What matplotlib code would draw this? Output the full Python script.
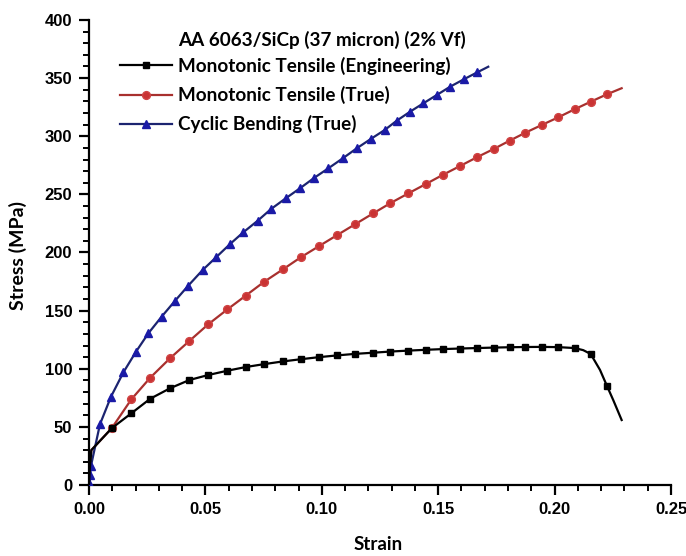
import matplotlib
matplotlib.use("Agg")
import matplotlib.pyplot as plt
from matplotlib.ticker import MultipleLocator, FormatStrFormatter
from matplotlib.lines import Line2D

# ---- data ----
tensile_strain = [0.0, 0.0004, 0.0010,
                  0.00975, 0.0182, 0.0263, 0.0348, 0.0431, 0.0512, 0.0594, 0.0674,
                  0.0753, 0.0833, 0.0910, 0.0989, 0.1067, 0.1143, 0.1221, 0.1295,
                  0.1372, 0.1447, 0.1519, 0.1594, 0.1666, 0.1738, 0.1807, 0.1874,
                  0.1945, 0.2016, 0.2086, 0.2123, 0.2155, 0.2195, 0.2225, 0.2252, 0.2288]
eng_stress = [0.0, 15.0, 30.0,
              48.8, 61.7, 74.2, 83.2, 90.3, 94.6, 98.3, 101.5,
              104.0, 106.3, 108.2, 110.0, 111.5, 112.8, 113.8, 114.8,
              115.6, 116.3, 116.9, 117.4, 117.8, 118.2, 118.5, 118.7,
              118.8, 118.6, 117.8, 116.0, 112.7, 99.0, 85.2, 73.0, 55.9]
eng_markers = [3, 4, 5, 6, 7, 8, 9, 10, 11, 12, 13, 14, 15, 16, 17, 18, 19, 20,
               21, 22, 23, 24, 25, 26, 27, 28, 29, 31, 33]

true_strain = [0.0, 0.0004, 0.0010,
               0.00975, 0.0182, 0.0263, 0.0348, 0.0431, 0.0512, 0.0594, 0.0674,
               0.0753, 0.0833, 0.0910, 0.0989, 0.1067, 0.1143, 0.1221, 0.1295,
               0.1372, 0.1447, 0.1519, 0.1594, 0.1666, 0.1738, 0.1807, 0.1874,
               0.1945, 0.2016, 0.2086, 0.2155, 0.2225, 0.2288]
true_stress = [0.0, 15.0, 30.0,
               48.8, 73.7, 92.3, 109.0, 123.9, 138.2, 151.0, 163.0,
               174.9, 185.5, 195.9, 205.6, 215.1, 224.3, 233.7, 242.5,
               250.9, 258.9, 266.7, 274.4, 281.9, 289.0, 296.2, 303.0,
               309.7, 316.3, 323.2, 329.7, 336.1, 341.3]
true_markers = list(range(3, 32))

bend_strain = [0.0, 0.0002, 0.0005, 0.0008, 0.0047,
               0.00945, 0.0148, 0.0202, 0.0255, 0.0312, 0.0369, 0.0426, 0.0488,
               0.0546, 0.0606, 0.0663, 0.0725, 0.0782, 0.0845, 0.0906, 0.0968,
               0.1028, 0.1090, 0.1150, 0.1210, 0.1271, 0.1322, 0.1379, 0.1436,
               0.1494, 0.1551, 0.1612, 0.1668, 0.1715]
bend_stress = [0.0, 2.0, 9.0, 16.0, 52.2,
               76.0, 97.0, 114.7, 130.5, 144.8, 158.3, 171.4, 184.9,
               195.9, 207.3, 217.4, 227.4, 237.4, 246.6, 255.2, 264.3,
               272.4, 281.0, 289.6, 297.6, 305.5, 313.4, 321.1, 328.3,
               335.5, 342.6, 349.2, 355.0, 359.8]
bend_markers = list(range(1, 33))

series_labels = ["Monotonic Tensile (Engineering)",
                 "Monotonic Tensile (True)",
                 "Cyclic Bending (True)"]
legend_title = "AA 6063/SiCp (37 micron) (2% Vf)"
x_label = "Strain"
y_label = "Stress (MPa)"

# ---- figure ----
W, H = 686, 556
fig = plt.figure(figsize=(W / 100, H / 100), dpi=100)
L, R, B, T = 89, 671, 485, 20
ax = fig.add_axes([L / W, 1 - B / H, (R - L) / W, (B - T) / H])

lw = 1.6
ax.plot(bend_strain, bend_stress, color="#1c2470", lw=lw, marker="^",
        markevery=bend_markers, ms=6.2, mfc="#1a1aa6", mec="#1a1aa6", zorder=3)
ax.plot(true_strain, true_stress, color="#a8302e", lw=lw, marker="o",
        markevery=true_markers, ms=5.6, mfc="#c93333", mec="#d04444", zorder=2)
ax.plot(tensile_strain, eng_stress, color="black", lw=lw, marker="s",
        markevery=eng_markers, ms=5.0, mfc="black", mec="black", zorder=4)

ax.set_xlim(0, 0.25)
ax.set_ylim(0, 400)
for s in ("top", "right"):
    ax.spines[s].set_visible(False)
for s in ("left", "bottom"):
    ax.spines[s].set_linewidth(1.6)
ax.xaxis.set_major_locator(MultipleLocator(0.05))
ax.xaxis.set_minor_locator(MultipleLocator(0.01))
ax.yaxis.set_major_locator(MultipleLocator(50))
ax.yaxis.set_minor_locator(MultipleLocator(10))
ax.xaxis.set_major_formatter(FormatStrFormatter("%.2f"))
ax.tick_params(which="major", direction="out", length=7, width=1.6,
               labelsize=12, pad=5)
ax.tick_params(which="minor", direction="out", length=4, width=1.4)
for lab in ax.get_xticklabels() + ax.get_yticklabels():
    lab.set_fontfamily("Liberation Sans")
    lab.set_fontweight("bold")

fig.text(378 / W, 1 - 545 / H, x_label, ha="center", va="center",
         family="Lato", weight="bold", size=13.5)
fig.text(18 / W, 1 - 255 / H, y_label, ha="center", va="center",
         rotation=90, family="Lato", weight="bold", size=14)

# legend
fs = 13.6
fig.text(178 / W, 1 - 40 / H, legend_title, ha="left", va="center",
         family="Lato", weight="bold", size=fs)
handles = [
    Line2D([], [], color="black", lw=lw, marker="s", ms=5.0, mfc="black", mec="black"),
    Line2D([], [], color="#a8302e", lw=lw, marker="o", ms=5.6, mfc="#c93333", mec="#d04444"),
    Line2D([], [], color="#1c2470", lw=lw, marker="^", ms=6.2, mfc="#1a1aa6", mec="#1a1aa6"),
]
leg = fig.legend(handles, series_labels, loc="upper left",
                 bbox_to_anchor=(120 / W, 1 - 57 / H), frameon=False,
                 prop=dict(family="Lato", weight="bold", size=fs),
                 handlelength=2.75, handletextpad=0.32, labelspacing=0.58,
                 borderpad=0.0, borderaxespad=0.0)

fig.savefig("out.png", dpi=100)
